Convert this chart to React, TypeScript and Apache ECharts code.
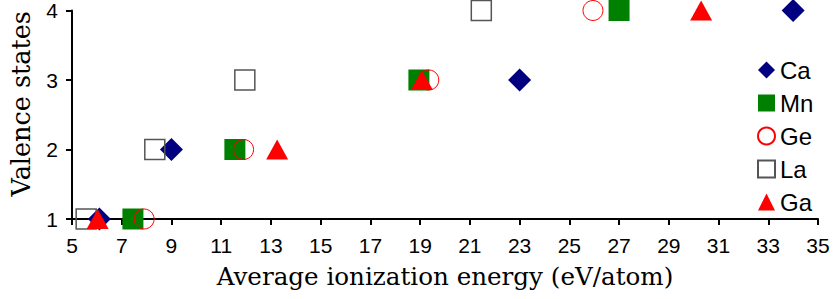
import React, { useEffect, useRef } from "react";
import * as echarts from "echarts";

const seriesNames = ["Ca", "Mn", "Ge", "La", "Ga"];
const caData: [number, number][] = [[6.1, 1], [9.0, 2], [23.0, 3], [34.0, 4]];
const mnData: [number, number][] = [[7.45, 1], [11.55, 2], [18.95, 3], [27.0, 4]];
const geData: [number, number][] = [[7.9, 1], [11.9, 2], [19.35, 3], [25.95, 4]];
const laData: [number, number][] = [[5.57, 1], [8.33, 2], [11.95, 3], [21.46, 4]];
const gaData: [number, number][] = [[6.03, 1], [13.25, 2], [19.07, 3], [30.3, 4]];

const xTitle = "Average ionization energy (eV/atom)";
const yTitle = "Valence states";

export default function App() {
  const ref = useRef<HTMLDivElement>(null);
  useEffect(() => {
    if (!ref.current) return;
    const chart = echarts.init(ref.current, undefined, { renderer: "svg" });
    const sans = "'Liberation Sans', Arial, sans-serif";
    const serif = "'DejaVu Serif', serif";
    chart.setOption({
      animation: false,
      backgroundColor: "#fff",
      grid: { left: 70, right: 15, top: 10, bottom: 80, containLabel: false },
      legend: {
        orient: "vertical",
        left: 757,
        top: 58,
        padding: 0,
        itemWidth: 17,
        itemHeight: 17,
        itemGap: 9,
        data: seriesNames,
        textStyle: { fontFamily: sans, fontSize: 24, color: "#000", lineHeight: 24 },
      },
      xAxis: {
        type: "value",
        min: 5,
        max: 35,
        interval: 2,
        name: xTitle,
        nameLocation: "middle",
        nameGap: 45,
        nameTextStyle: { fontFamily: serif, fontSize: 24.6, color: "#000" },
        splitLine: { show: false },
        axisLine: { onZero: false, lineStyle: { color: "#000", width: 2 } },
        axisTick: { show: true, length: 6, lineStyle: { color: "#000", width: 2 } },
        axisLabel: { fontFamily: sans, fontSize: 21, color: "#000", margin: 16 },
      },
      yAxis: {
        type: "value",
        min: 1,
        max: 4,
        interval: 1,
        name: yTitle,
        nameLocation: "middle",
        nameGap: 38,
        nameTextStyle: { fontFamily: serif, fontSize: 25.5, color: "#000", padding: [0, 0, 0, 22] },
        splitLine: { show: false },
        axisLine: { onZero: false, lineStyle: { color: "#000", width: 2 } },
        axisTick: { show: true, length: 6, lineStyle: { color: "#000", width: 2 } },
        axisLabel: { fontFamily: sans, fontSize: 21, color: "#000", margin: 14 },
      },
      series: [
        {
          name: "Ca",
          type: "scatter",
          data: caData,
          symbol: "diamond",
          symbolSize: 23,
          itemStyle: { color: "#000080", opacity: 1 },
        },
        {
          name: "Mn",
          type: "scatter",
          data: mnData,
          symbol: "rect",
          symbolSize: 21,
          itemStyle: { color: "#008000", opacity: 1 },
        },
        {
          name: "Ge",
          type: "scatter",
          data: geData,
          symbol: "circle",
          symbolSize: 20,
          itemStyle: { color: "rgba(0,0,0,0)", borderColor: "#ff0000", borderWidth: 1, opacity: 1 },
        },
        {
          name: "La",
          type: "scatter",
          data: laData,
          symbol: "rect",
          symbolSize: 20,
          itemStyle: { color: "rgba(0,0,0,0)", borderColor: "#555", borderWidth: 1.5, opacity: 1 },
        },
        {
          name: "Ga",
          type: "scatter",
          data: gaData,
          symbol: "triangle",
          symbolSize: [22, 20],
          itemStyle: { color: "#ff0000", opacity: 1 },
        },
      ],
    });
    return () => chart.dispose();
  }, []);
  return <div ref={ref} style={{ width: 833, height: 299, position: "absolute", left: 0, top: 0 }} />;
}
